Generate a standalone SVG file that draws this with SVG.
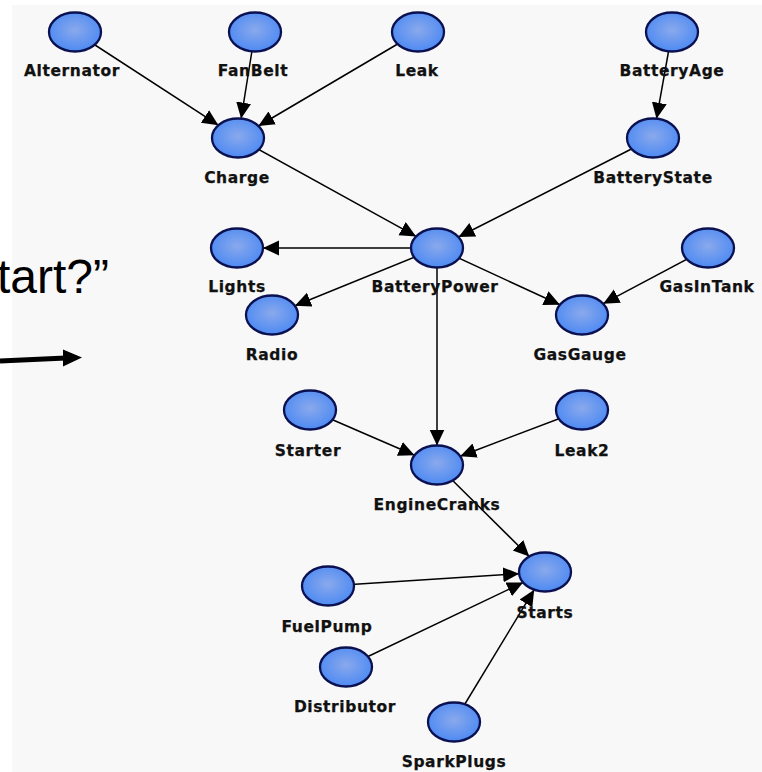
<svg xmlns="http://www.w3.org/2000/svg" width="762" height="772" viewBox="0 0 762 772">
<style>
.n{fill:url(#g);stroke:#0b1150;stroke-width:2.3}
.l{font-family:"DejaVu Sans",Verdana,sans-serif;font-weight:bold;font-size:15.5px;letter-spacing:0.6px;fill:#111;stroke:#111;stroke-width:0.25;text-anchor:middle}
.e{stroke:#000;stroke-width:1.5;fill:none;marker-end:url(#a)}
</style>
<defs>
<radialGradient id="g" cx="50%" cy="45%" r="55%">
<stop offset="0" stop-color="#8aa9ec"/>
<stop offset="1" stop-color="#4d8af3"/>
</radialGradient>
<marker id="a" markerUnits="userSpaceOnUse" markerWidth="17" markerHeight="16" refX="16" refY="7.5" orient="auto">
<path d="M0,0 L16,7.5 L0,15 z" fill="#000"/>
</marker>
</defs>
<rect x="0" y="0" width="762" height="772" fill="#ffffff"/>
<rect x="12" y="5" width="750" height="767" fill="#f8f8f8"/>
<text x="-3" y="293" font-family="'Liberation Sans',Arial,sans-serif" font-size="48" fill="#000">tart?”</text>
<g id="bigarrow">
<line x1="0" y1="361" x2="66" y2="358" stroke="#000" stroke-width="5"/>
<path d="M63,349.5 L82,357.5 L63,366.5 z" fill="#000"/>
</g>
<g id="connectors">
<line class="e" x1="75" y1="32" x2="218.4" y2="125.2"/>
<line class="e" x1="255" y1="32" x2="241.1" y2="118.6"/>
<line class="e" x1="418" y1="32" x2="258.4" y2="126"/>
<line class="e" x1="672" y1="32" x2="656.5" y2="118.7"/>
<line class="e" x1="238" y1="138" x2="416.1" y2="236.4"/>
<line class="e" x1="653" y1="138" x2="458.5" y2="237"/>
<line class="e" x1="437" y1="248" x2="263" y2="248"/>
<line class="e" x1="437" y1="248" x2="294.9" y2="305.7"/>
<line class="e" x1="437" y1="248" x2="559.9" y2="304.8"/>
<line class="e" x1="708" y1="248" x2="603.2" y2="303.7"/>
<line class="e" x1="437" y1="248" x2="437" y2="445.5"/>
<line class="e" x1="310" y1="410" x2="414.5" y2="455.3"/>
<line class="e" x1="582" y1="410" x2="460.2" y2="456.2"/>
<line class="e" x1="437" y1="465" x2="529.3" y2="556.5"/>
<line class="e" x1="328" y1="586" x2="519.1" y2="573.7"/>
<line class="e" x1="346" y1="667" x2="523.1" y2="582.5"/>
<line class="e" x1="454" y1="722" x2="534.2" y2="589.7"/>
</g>
<g id="Alternator"><ellipse class="n" cx="75" cy="32" rx="26" ry="19.5"/><text class="l" x="72" y="76">Alternator</text></g>
<g id="FanBelt"><ellipse class="n" cx="255" cy="32" rx="26" ry="19.5"/><text class="l" x="253" y="76">FanBelt</text></g>
<g id="Leak"><ellipse class="n" cx="418" cy="32" rx="26" ry="19.5"/><text class="l" x="417" y="76">Leak</text></g>
<g id="BatteryAge"><ellipse class="n" cx="672" cy="32" rx="26" ry="19.5"/><text class="l" x="672" y="76">BatteryAge</text></g>
<g id="Charge"><ellipse class="n" cx="238" cy="138" rx="26" ry="19.5"/><text class="l" x="237" y="183">Charge</text></g>
<g id="BatteryState"><ellipse class="n" cx="653" cy="138" rx="26" ry="19.5"/><text class="l" x="653" y="183">BatteryState</text></g>
<g id="Lights"><ellipse class="n" cx="237" cy="248" rx="26" ry="19.5"/><text class="l" x="237" y="292">Lights</text></g>
<g id="BatteryPower"><ellipse class="n" cx="437" cy="248" rx="26" ry="19.5"/><text class="l" x="435" y="292">BatteryPower</text></g>
<g id="GasInTank"><ellipse class="n" cx="708" cy="248" rx="26" ry="19.5"/><text class="l" x="707" y="292">GasInTank</text></g>
<g id="Radio"><ellipse class="n" cx="272" cy="315" rx="26" ry="19.5"/><text class="l" x="272" y="360">Radio</text></g>
<g id="GasGauge"><ellipse class="n" cx="582" cy="315" rx="26" ry="19.5"/><text class="l" x="580" y="360">GasGauge</text></g>
<g id="Starter"><ellipse class="n" cx="310" cy="410" rx="26" ry="19.5"/><text class="l" x="308" y="456">Starter</text></g>
<g id="Leak2"><ellipse class="n" cx="582" cy="410" rx="26" ry="19.5"/><text class="l" x="582" y="456">Leak2</text></g>
<g id="EngineCranks"><ellipse class="n" cx="437" cy="465" rx="26" ry="19.5"/><text class="l" x="437" y="510">EngineCranks</text></g>
<g id="Starts"><ellipse class="n" cx="545" cy="572" rx="26" ry="19.5"/><text class="l" x="545" y="618">Starts</text></g>
<g id="FuelPump"><ellipse class="n" cx="328" cy="586" rx="26" ry="19.5"/><text class="l" x="327" y="632">FuelPump</text></g>
<g id="Distributor"><ellipse class="n" cx="346" cy="667" rx="26" ry="19.5"/><text class="l" x="345" y="712">Distributor</text></g>
<g id="SparkPlugs"><ellipse class="n" cx="454" cy="722" rx="26" ry="19.5"/><text class="l" x="454" y="767">SparkPlugs</text></g>
</svg>
